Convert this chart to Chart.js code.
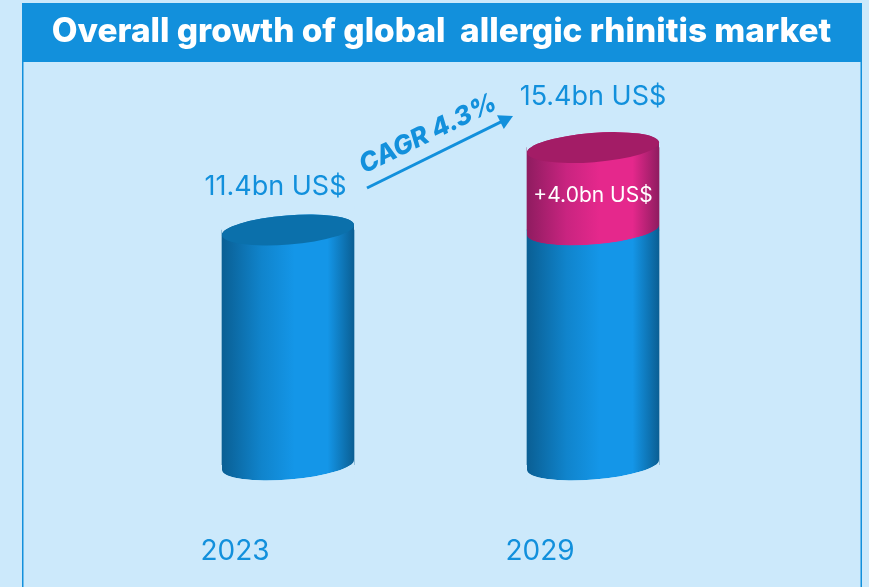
<!DOCTYPE html>
<html>
<head>
<meta charset="utf-8">
<style>
  html, body { margin: 0; padding: 0; background: #cce9fb; overflow: hidden; }
  canvas { display: block; }
</style>
<script src="https://cdn.jsdelivr.net/npm/chart.js@4"></script>
</head>
<body>
<canvas id="chart" width="869" height="587"></canvas>
<script>
const chartTitle = "Overall growth of global  allergic rhinitis market";
const years = ["2023", "2029"];
const baseValues = [11.4, 11.4];
const addedValues = [null, 4.0];
const totalLabels = ["11.4bn US$", "15.4bn US$"];
const addedLabel = "+4.0bn US$";
const cagrLabel = "CAGR 4.3%";

const BLUE = "#1290dc";
const PAGE = "#cce9fb";
const BAR_W = 132;
const CAP_A = 66.2;
const CAP_B = 14.6;
const CAP_ROT = -4.56 * Math.PI / 180;
const FONT = "Inter";

function sideGradient(ctx, left, edge, soft, mid) {
  const g = ctx.createLinearGradient(left, 0, left + BAR_W, 0);
  g.addColorStop(0, edge);
  g.addColorStop(0.3, soft);
  g.addColorStop(0.55, mid);
  g.addColorStop(0.8, mid);
  g.addColorStop(1, edge);
  return g;
}

function blueFill(ctx, left) {
  return sideGradient(ctx, left, "#0a5f94", "#1084cc", "#1496e8");
}

function pinkFill(ctx, left) {
  return sideGradient(ctx, left, "#8f1c60", "#c92480", "#e5288c");
}

function barFill(chart, dataIndex, painter) {
  const scale = chart.scales.x;
  const x = scale ? scale.getPixelForValue(dataIndex) : NaN;
  // scale has no size yet on the first pass
  if (!Number.isFinite(x)) return BLUE;
  return painter(chart.ctx, x - BAR_W / 2);
}

function capPath(ctx, x, y) {
  ctx.beginPath();
  ctx.ellipse(x, y, CAP_A, CAP_B, CAP_ROT, 0, Math.PI * 2);
}

// region between half of the tilted ellipse and a horizontal line at yEnd
function arcRegion(ctx, x, y, lower, yEnd, extra) {
  const side = (lower ? -1 : 1) * (BAR_W / 2 + extra);
  ctx.beginPath();
  if (lower) ctx.ellipse(x, y, CAP_A, CAP_B, CAP_ROT, 0, Math.PI);
  else ctx.ellipse(x, y, CAP_A, CAP_B, CAP_ROT, Math.PI, Math.PI * 2);
  ctx.lineTo(x + side, yEnd);
  ctx.lineTo(x - side, yEnd);
  ctx.closePath();
}

function fillRegion(ctx, x, y, lower, yEnd, extra, style) {
  arcRegion(ctx, x, y, lower, yEnd, extra);
  ctx.fillStyle = style;
  ctx.fill();
}

// rounds off the square ends of a bar and lays its top cap over it
function shapeTop(ctx, x, y, painter, capColor) {
  const left = x - BAR_W / 2;
  fillRegion(ctx, x, y, false, y - 30, 1, PAGE);
  fillRegion(ctx, x, y, false, y + 12, 0, painter(ctx, left));
  capPath(ctx, x, y);
  ctx.fillStyle = capColor;
  ctx.fill();
}

const framePlugin = {
  id: "frame",
  beforeDraw(chart) {
    const ctx = chart.ctx;
    ctx.save();
    ctx.fillStyle = BLUE;
    ctx.fillRect(22, 3, 840, 59);
    ctx.fillRect(22, 62, 1.5, 525);
    ctx.fillRect(860.5, 62, 1.5, 525);
    ctx.fillStyle = "#ffffff";
    ctx.font = "800 33.4px " + FONT;
    ctx.textAlign = "center";
    ctx.textBaseline = "middle";
    ctx.fillText(chartTitle, 441.5, 32);
    ctx.restore();
  }
};

const cylinderPlugin = {
  id: "cylinder",
  afterDatasetsDraw(chart) {
    const ctx = chart.ctx;
    const blue = chart.getDatasetMeta(0).data;
    const pink = chart.getDatasetMeta(1).data;
    ctx.save();

    // bottoms
    blue.forEach((bar) => {
      const fill = blueFill(ctx, bar.x - BAR_W / 2);
      fillRegion(ctx, bar.x, bar.base, true, bar.base - 12, 0, fill);
      fillRegion(ctx, bar.x, bar.base, true, bar.base + 30, 1, PAGE);
    });

    // curved seam between the pink part and the blue part
    const seam = blue[1];
    const left = seam.x - BAR_W / 2;
    fillRegion(ctx, seam.x, seam.y, true, seam.y - 20, 0, pinkFill(ctx, left));
    fillRegion(ctx, seam.x, seam.y, true, seam.y + 30, 0, blueFill(ctx, left));

    // tops
    shapeTop(ctx, blue[0].x, blue[0].y, blueFill, "#0b70ab");
    shapeTop(ctx, pink[1].x, pink[1].y, pinkFill, "#a31c66");
    ctx.restore();
  }
};

const labelPlugin = {
  id: "labels",
  afterDraw(chart) {
    const ctx = chart.ctx;
    const blue = chart.getDatasetMeta(0).data;
    const pink = chart.getDatasetMeta(1).data;
    ctx.save();
    ctx.textAlign = "center";
    ctx.textBaseline = "middle";

    ctx.font = "400 27px " + FONT;
    ctx.fillStyle = BLUE;
    ctx.fillText(totalLabels[0], blue[0].x - 12.5, 187);
    ctx.fillText(totalLabels[1], pink[1].x, 97);

    ctx.font = "400 21px " + FONT;
    ctx.fillStyle = "#ffffff";
    ctx.fillText(addedLabel, pink[1].x, 196);

    // CAGR arrow
    const x0 = 367, y0 = 188, x1 = 513, y1 = 116;
    const a = Math.atan2(y1 - y0, x1 - x0);
    ctx.strokeStyle = BLUE;
    ctx.lineWidth = 3;
    ctx.beginPath();
    ctx.moveTo(x0, y0);
    ctx.lineTo(x1 - 10 * Math.cos(a), y1 - 10 * Math.sin(a));
    ctx.stroke();
    ctx.beginPath();
    ctx.moveTo(x1, y1);
    ctx.lineTo(x1 - 16 * Math.cos(a - 0.5), y1 - 16 * Math.sin(a - 0.5));
    ctx.lineTo(x1 - 16 * Math.cos(a + 0.5), y1 - 16 * Math.sin(a + 0.5));
    ctx.closePath();
    ctx.fillStyle = BLUE;
    ctx.fill();

    ctx.translate(428, 134);
    ctx.rotate(-26 * Math.PI / 180);
    ctx.font = "italic 800 26px " + FONT;
    ctx.fillText(cagrLabel, 0, 0);
    ctx.restore();
  }
};

new Chart(document.getElementById("chart"), {
  type: "bar",
  data: {
    labels: years,
    datasets: [
      {
        label: "2023 market",
        data: baseValues,
        backgroundColor: (c) => barFill(c.chart, c.dataIndex, blueFill),
        barThickness: BAR_W,
      },
      {
        label: "Growth",
        data: addedValues,
        backgroundColor: (c) => barFill(c.chart, c.dataIndex, pinkFill),
        barThickness: BAR_W,
      },
    ],
  },
  options: {
    responsive: false,
    animation: false,
    layout: { padding: { left: 135.5, right: 123.5, top: 94, bottom: 0 } },
    plugins: {
      legend: { display: false },
      tooltip: { enabled: false },
    },
    scales: {
      x: {
        stacked: true,
        grid: { display: false },
        border: { display: false },
        afterFit(scale) {
          scale.height = 122;
        },
        ticks: {
          color: BLUE,
          font: { family: FONT, size: 28 },
          labelOffset: -53,
          padding: 62,
          maxRotation: 0,
        },
      },
      y: {
        display: false,
        stacked: true,
        min: 0,
        max: 18,
      },
    },
  },
  plugins: [framePlugin, cylinderPlugin, labelPlugin],
});
</script>
</body>
</html>
